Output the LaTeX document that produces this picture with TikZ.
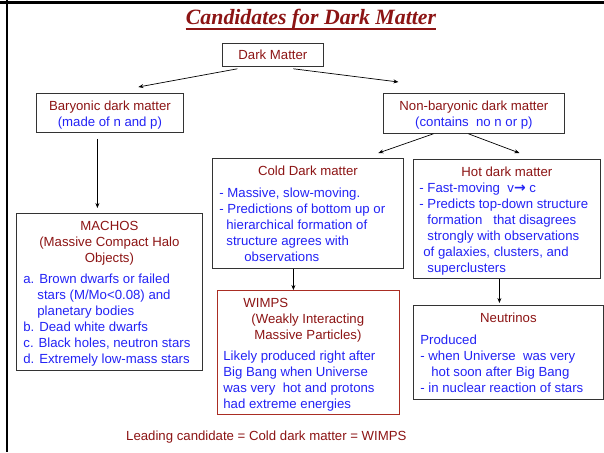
\documentclass[tikz,border=0pt]{standalone}
\usepackage{fontspec}
\setmainfont{Liberation Sans}
\newfontfamily\titlefont{Liberation Serif}
\newfontfamily\symfont{DejaVu Sans}
\usetikzlibrary{arrows.meta}

\definecolor{dred}{RGB}{140,20,20}
\definecolor{dblue}{RGB}{35,35,245}
\definecolor{wred}{RGB}{170,45,35}

% one centred heading line, one shifted line
\newcommand\headline[1]{{\color{dred}\centering #1\par}}
\newcommand\txtline[3]{{\color{#1}\hspace*{#2}#3\par}}
\newcommand\boxbody[3]{\begin{minipage}[t][#2][t]{#1}\raggedright #3\end{minipage}}

\tikzset{
  box/.style={draw=black!80, line width=0.8pt, inner sep=0pt, anchor=north west,
    font=\fontsize{13.2}{16}\selectfont},
  link/.style={-{Stealth[length=5pt,width=4pt]}, line width=0.7pt}
}

\begin{document}
\begin{tikzpicture}[x=1pt,y=-1pt]
    \useasboundingbox (0,0) rectangle (604,452);
    % slide frame
    \draw[line width=3pt] (0,3) -- (604,3);
    \draw[line width=2pt] (6.7,0) -- (6.7,452);

    \node[anchor=base, inner sep=0pt, text=dred,
      font=\titlefont\fontsize{21.8}{24}\selectfont\bfseries\itshape]
      (title) at (311,25) {Candidates for Dark Matter};
    \draw[dred, line width=1.3pt] ([yshift=-4pt]title.base west) -- ([yshift=-4pt]title.base east);

    \node[box] (dm) at (222,43) {\boxbody{101pt}{23pt}{%
      \headline{\rule{0pt}{16pt}Dark Matter}}};

    \node[box] (bary) at (36,93) {\boxbody{147pt}{39pt}{%
      \headline{\rule{0pt}{17pt}Baryonic dark matter}
      {\color{dblue}\centering (made of n and p)\par}}};

    \node[box] (nonb) at (383,93) {\boxbody{181pt}{40pt}{%
      \headline{\rule{0pt}{17pt}Non-baryonic dark matter}
      {\color{dblue}\centering (contains~ no n or p)\par}}};

    \node[box] (machos) at (16,213) {\boxbody{186pt}{157pt}{%
      \headline{\rule{0pt}{17pt}MACHOS}
      \headline{(Massive Compact Halo}
      \headline{Objects)}
      \vspace{5pt}
      \txtline{dblue}{7pt}{a. Brown dwarfs or failed}
      \txtline{dblue}{21pt}{stars (M/Mo<0.08) and}
      \txtline{dblue}{21pt}{planetary bodies}
      \txtline{dblue}{7pt}{b. Dead white dwarfs}
      \txtline{dblue}{7pt}{c. Black holes, neutron stars}
      \txtline{dblue}{7pt}{d. Extremely low-mass stars}}};

    \node[box] (cold) at (212,158) {\boxbody{191pt}{110pt}{%
      \headline{\rule{0pt}{17pt}Cold Dark matter}
      \vspace{6pt}
      \txtline{dblue}{7pt}{- Massive, slow-moving.}
      \txtline{dblue}{7pt}{- Predictions of bottom up or}
      \txtline{dblue}{14pt}{hierarchical formation of}
      \txtline{dblue}{14pt}{structure agrees with}
      \txtline{dblue}{32pt}{observations}}};

    \node[box, draw=wred] (wimps) at (217,290) {\boxbody{182pt}{124pt}{%
      \txtline{dred}{26pt}{\rule{0pt}{17pt}WIMPS}
      \txtline{dred}{34pt}{(Weakly Interacting}
      \txtline{dred}{37pt}{Massive Particles)}
      \vspace{5pt}
      \txtline{dblue}{6pt}{Likely produced right after}
      \txtline{dblue}{6pt}{Big Bang when Universe}
      \txtline{dblue}{6pt}{was very~ hot and protons}
      \txtline{dblue}{6pt}{had extreme energies}}};

    \node[box] (hot) at (413,159) {\boxbody{187pt}{119pt}{%
      \headline{\rule{0pt}{17pt}Hot dark matter}
      \txtline{dblue}{6pt}{- Fast-moving~ v{\symfont\fontsize{14}{16}\selectfont\bfseries →} c}
      \txtline{dblue}{6pt}{- Predicts top-down structure}
      \txtline{dblue}{14pt}{formation~~ that disagrees}
      \txtline{dblue}{14pt}{strongly with observations}
      \txtline{dblue}{10pt}{of galaxies, clusters, and}
      \txtline{dblue}{14pt}{superclusters}}};

    \node[box] (neut) at (413,305) {\boxbody{190pt}{94pt}{%
      \headline{\rule{0pt}{17pt}Neutrinos}
      \vspace{6pt}
      \txtline{dblue}{7pt}{Produced}
      \txtline{dblue}{7pt}{- when Universe~ was very}
      \txtline{dblue}{18pt}{hot soon after Big Bang}
      \txtline{dblue}{7pt}{- in nuclear reaction of stars}}};

    \node[anchor=base west, inner sep=0pt, text=dred, font=\fontsize{13.2}{16}\selectfont]
      (lead) at (126,440) {Leading candidate = Cold dark matter = WIMPS};

    % connectors
    \draw[link] ([xshift=-35.5pt,yshift=-2pt]dm.south) -- ([xshift=28.5pt,yshift=6pt]bary.north);
    \draw[link] ([xshift=20.5pt,yshift=-2pt]dm.south) -- ([xshift=-75.5pt,yshift=11pt]nonb.north);
    \draw[link] ([xshift=-12.5pt,yshift=-6pt]bary.south) -- ([xshift=-12.5pt,yshift=5pt]machos.north -| bary.south);
    \draw[link] ([xshift=-40.5pt]nonb.south) -- ([xshift=70.5pt,yshift=5pt]cold.north);
    \draw[link] ([xshift=-5.5pt]nonb.south) -- ([xshift=12.5pt,yshift=6pt]hot.north);
    \draw[link] ([xshift=-14.5pt]cold.south) -- ([xshift=-14.5pt]wimps.north -| cold.south);
    \draw[link] ([xshift=-7.5pt]hot.south) -- ([xshift=-7.5pt,yshift=2pt]neut.north -| hot.south);
\end{tikzpicture}
\end{document}
